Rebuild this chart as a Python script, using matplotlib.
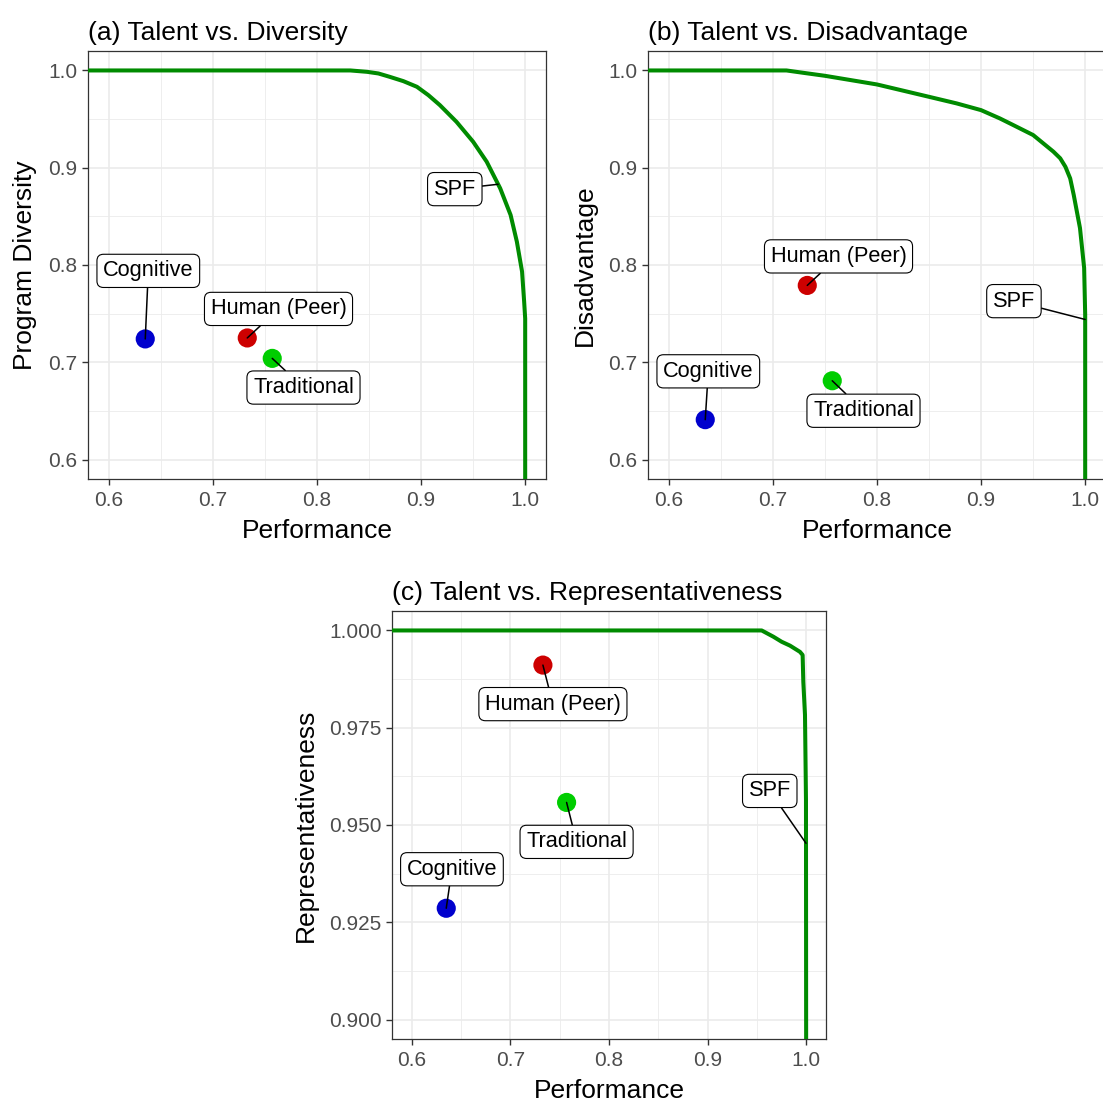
import numpy as np
import matplotlib
matplotlib.use("Agg")
import matplotlib.pyplot as plt
from matplotlib.ticker import FormatStrFormatter

plt.rcParams["font.family"] = ["Liberation Sans", "DejaVu Sans"]

# ---- selection strategies (points) ----
strategies = ["Cognitive", "Human (Peer)", "Traditional"]
strategy_colors = ["#0000CD", "#CD0000", "#00CD00"]
performance = [0.635, 0.733, 0.757]
diversity = [0.724, 0.725, 0.704]
disadvantage = [0.641, 0.779, 0.681]
representativeness = [0.9286, 0.9911, 0.9558]

# ---- selection possibility frontiers (curves) ----
spf_a_perf = [0.55, 0.822, 0.832, 0.848, 0.859, 0.870, 0.883, 0.896, 0.907,
              0.918, 0.934, 0.950, 0.963, 0.976, 0.986, 0.992, 0.997, 0.999,
              1.000, 1.000]
spf_a_div = [1.000, 1.000, 1.000, 0.9986, 0.9969, 0.9934, 0.989, 0.9832, 0.9746,
             0.9644, 0.9472, 0.9267, 0.9062, 0.8788, 0.8514, 0.824, 0.7932,
             0.7624, 0.745, 0.400]

spf_b_perf = [0.55, 0.713, 0.729, 0.750, 0.800, 0.850, 0.8766, 0.900, 0.918,
              0.931, 0.950, 0.9695, 0.976, 0.981, 0.9856, 0.989, 0.995, 0.999,
              1.000, 1.000]
spf_b_dis = [1.000, 1.000, 0.9976, 0.9945, 0.9856, 0.9729, 0.9661, 0.9592,
             0.9507, 0.9438, 0.9336, 0.9165, 0.9097, 0.901, 0.889, 0.872,
             0.838, 0.797, 0.749, 0.400]

spf_c_perf = [0.55, 0.9548, 0.9666, 0.975, 0.9835, 0.9936, 0.9963, 0.9970,
              0.9987, 0.9997, 1.000]
spf_c_rep = [1.000, 1.000, 0.9984, 0.9971, 0.9961, 0.9945, 0.9937, 0.9868,
             0.9783, 0.9565, 0.850]

LINE_GREEN = "#008B00"
GRID = "#EBEBEB"
DARK = "#333333"

fig = plt.figure(figsize=(11.03, 11.01), dpi=100)
W, H = 1103.0, 1101.0


def px_axes(left, top, right, bottom):
    return fig.add_axes([left / W, 1 - bottom / H, (right - left) / W, (bottom - top) / H])


def style(ax, ylim, yticks, yminor, yfmt, title, ylabel):
    ax.set_xlim(0.58, 1.02)
    ax.set_ylim(*ylim)
    ax.set_xticks([0.6, 0.7, 0.8, 0.9, 1.0])
    ax.set_xticks([0.65, 0.75, 0.85, 0.95], minor=True)
    ax.set_yticks(yticks)
    ax.set_yticks(yminor, minor=True)
    ax.xaxis.set_major_formatter(FormatStrFormatter("%.1f"))
    ax.yaxis.set_major_formatter(FormatStrFormatter(yfmt))
    ax.grid(which="major", color=GRID, lw=1.2)
    ax.grid(which="minor", color=GRID, lw=0.6)
    ax.set_axisbelow(True)
    for sp in ax.spines.values():
        sp.set_color(DARK)
        sp.set_linewidth(0.9)
    ax.tick_params(axis="x", which="major", pad=5)
    ax.tick_params(axis="y", which="major", pad=3.5)
    ax.tick_params(which="major", length=4, width=1.0, color=DARK,
                   labelsize=15, labelcolor="#4D4D4D")
    ax.tick_params(which="minor", length=0)
    ax.set_xlabel("Performance", fontsize=19, labelpad=6)
    ax.set_ylabel(ylabel, fontsize=19, labelpad=8)
    ax.set_title(title, loc="left", fontsize=19, pad=8)


def label(ax, text, xy, offset):
    ax.annotate(text, xy=xy, xytext=offset, textcoords="offset points",
                ha="center", va="center", fontsize=15.7, color="black", zorder=6,
                bbox=dict(boxstyle="round,pad=0.28,rounding_size=0.3",
                          fc="white", ec="black", lw=0.8),
                arrowprops=dict(arrowstyle="-", color="black", lw=1.1,
                                shrinkA=0, shrinkB=0),
                annotation_clip=False)


def spf_anchor(xs, ys, y_level):
    # point on the frontier at a given height (curve is non-increasing in y)
    xs = np.asarray(xs)[::-1]
    ys = np.asarray(ys)[::-1]
    return float(np.interp(y_level, ys, xs)), y_level


def draw_panel(ax, spf_x, spf_y, yvals, offsets, spf_y_level, spf_offset):
    ax.plot(spf_x, spf_y, color=LINE_GREEN, lw=2.9, zorder=3,
            solid_capstyle="butt", solid_joinstyle="round")
    ax.scatter(performance, yvals, s=190, c=strategy_colors, edgecolors="none", zorder=4)
    for name, px, py, off in zip(strategies, performance, yvals, offsets):
        label(ax, name, (px, py), off)
    label(ax, "SPF", spf_anchor(spf_x, spf_y, spf_y_level), spf_offset)


# (a) Talent vs. Diversity
ax_a = px_axes(88, 51, 546, 479)
style(ax_a, (0.58, 1.02), [0.6, 0.7, 0.8, 0.9, 1.0], [0.65, 0.75, 0.85, 0.95],
      "%.1f", "(a) Talent vs. Diversity", "Program Diversity")
draw_panel(ax_a, spf_a_perf, spf_a_div, diversity,
           [(2.2, 49), (22.5, 20.9), (22.5, -21)], 0.883, (-31.2, -3.5))

# (b) Talent vs. Disadvantage
ax_b = px_axes(648, 51, 1106, 479)
style(ax_b, (0.58, 1.02), [0.6, 0.7, 0.8, 0.9, 1.0], [0.65, 0.75, 0.85, 0.95],
      "%.1f", "(b) Talent vs. Disadvantage", "Disadvantage")
draw_panel(ax_b, spf_b_perf, spf_b_dis, disadvantage,
           [(2.2, 34.8), (22.5, 20.9), (22.5, -21.6)], 0.744, (-51.3, 13.2))

# (c) Talent vs. Representativeness
ax_c = px_axes(392, 611, 826, 1039)
style(ax_c, (0.895, 1.005), [0.900, 0.925, 0.950, 0.975, 1.000],
      [0.9125, 0.9375, 0.9625, 0.9875], "%.3f",
      "(c) Talent vs. Representativeness", "Representativeness")
draw_panel(ax_c, spf_c_perf, spf_c_rep, representativeness,
           [(4.1, 28.1), (7.2, -28.1), (7.2, -28.4)], 0.9453, (-26.1, 37.7))

fig.savefig("out.png", dpi=100, facecolor="white")
